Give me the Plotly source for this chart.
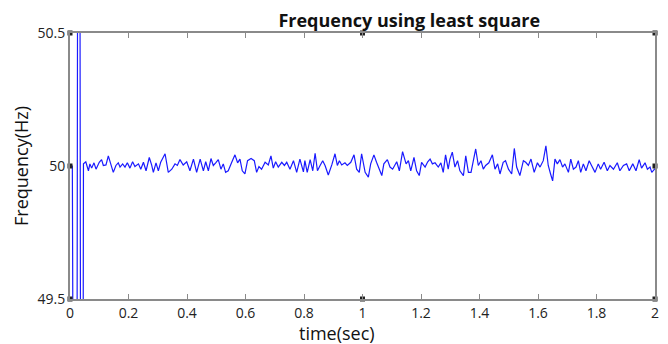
import plotly.graph_objects as go

# time (s) and frequency (Hz)
time_s = [0.000, 0.008, 0.020, 0.030, 0.040,
          0.046, 0.054, 0.063, 0.068, 0.074, 0.082, 0.089, 0.100, 0.108, 0.114,
          0.123, 0.131, 0.139, 0.148, 0.157, 0.165, 0.171, 0.180, 0.188, 0.196,
          0.205, 0.214, 0.222, 0.234, 0.242, 0.251, 0.260, 0.271, 0.279, 0.285,
          0.294, 0.302, 0.310, 0.325, 0.336, 0.348, 0.359, 0.367, 0.376, 0.387,
          0.399,
          0.410, 0.422, 0.433, 0.445, 0.456, 0.464, 0.473, 0.482, 0.490, 0.498,
          0.507, 0.516, 0.524, 0.532, 0.541, 0.553, 0.564, 0.573, 0.581, 0.589,
          0.598, 0.607, 0.619, 0.630, 0.638, 0.646, 0.655, 0.667, 0.678, 0.687,
          0.695, 0.703, 0.712, 0.724, 0.733, 0.741, 0.752, 0.764, 0.775, 0.786,
          0.798,
          0.803, 0.811, 0.821, 0.830, 0.838, 0.846, 0.855, 0.864, 0.872, 0.883,
          0.895, 0.906, 0.914, 0.921, 0.929, 0.940, 0.948, 0.960, 0.971, 0.980,
          0.989, 0.997, 1.009, 1.020, 1.028, 1.039, 1.048, 1.058, 1.066, 1.073,
          1.085, 1.094, 1.103, 1.117, 1.126, 1.137, 1.149, 1.157, 1.165, 1.176,
          1.185, 1.194,
          1.202, 1.214, 1.223, 1.231, 1.239, 1.248, 1.259, 1.268, 1.276, 1.284,
          1.293, 1.299, 1.307, 1.316, 1.325, 1.333, 1.345, 1.353, 1.362, 1.371,
          1.379, 1.387, 1.396, 1.405, 1.413, 1.421, 1.432, 1.444, 1.453, 1.462,
          1.470, 1.481, 1.489, 1.499, 1.510, 1.519, 1.527, 1.538, 1.550, 1.558,
          1.567, 1.576, 1.587,
          1.598, 1.607, 1.618, 1.627, 1.635, 1.643, 1.650, 1.658, 1.666, 1.675,
          1.684, 1.692, 1.704, 1.712, 1.721, 1.730, 1.738, 1.746, 1.755, 1.764,
          1.775, 1.783, 1.795, 1.806, 1.814, 1.826, 1.837, 1.846, 1.858, 1.871,
          1.880, 1.892, 1.903, 1.912, 1.924, 1.935, 1.946, 1.954, 1.966, 1.974,
          1.983, 1.989, 2.000]

freq_hz = [50.000, 50.000, 46.000, 54.000, 46.000,
           50.008, 50.016, 49.982, 50.008, 49.992, 50.012, 49.988, 50.014, 50.024, 50.002,
           50.004, 50.038, 50.012, 49.976, 50.002, 50.012, 49.996, 50.008, 49.996, 50.012,
           49.992, 50.016, 49.998, 50.008, 49.988, 50.014, 49.982, 50.032, 50.004, 49.976,
           50.012, 49.982, 50.014, 50.046, 49.976, 49.988, 50.008, 50.002, 50.024, 50.004,
           50.016,
           49.982, 50.026, 49.976, 50.026, 49.982, 50.016, 49.982, 50.028, 50.002, 50.012,
           50.024, 49.988, 50.008, 49.976, 49.982, 50.014, 50.042, 50.012, 50.026, 49.982,
           49.970, 50.020, 50.028, 50.020, 49.976, 49.998, 49.988, 50.014, 50.004, 50.038,
           49.992, 50.016, 49.996, 50.014, 50.002, 50.014, 49.988, 50.020, 49.976, 50.026,
           49.978,
           50.020, 49.976, 50.024, 49.982, 50.048, 49.982, 50.002, 50.020, 50.002, 49.966,
           50.004, 50.046, 50.002, 50.020, 50.004, 50.012, 50.002, 50.014, 50.042, 49.988,
           49.976, 50.046, 49.976, 49.958, 50.008, 50.042, 50.014, 49.982, 49.964, 50.008,
           50.024, 49.996, 49.988, 50.016, 49.982, 50.054, 50.008, 50.020, 49.982, 50.032,
           49.982, 49.964,
           50.014, 49.996, 50.016, 50.026, 50.008, 50.012, 49.996, 50.012, 49.976, 50.042,
           49.988, 50.026, 50.052, 49.996, 50.020, 49.982, 49.964, 50.038, 49.976, 49.976,
           50.026, 50.064, 50.002, 50.020, 49.988, 50.002, 50.012, 50.042, 49.988, 50.008,
           49.970, 50.014, 50.020, 49.988, 49.970, 50.066, 49.996, 49.964, 50.020, 50.014,
           50.002, 50.026, 49.976,
           50.012, 49.996, 50.020, 50.076, 50.002, 49.970, 49.944, 50.026, 50.008, 50.024,
           49.996, 50.008, 49.976, 50.026, 49.988, 49.996, 50.020, 49.976, 50.008, 49.982,
           50.020, 50.002, 49.976, 50.008, 49.988, 50.014, 49.982, 50.002, 49.988, 50.012,
           49.982, 50.002, 50.008, 49.982, 50.008, 49.982, 50.024, 49.992, 50.012, 49.988,
           49.996, 49.976, 49.990]

x_ticks = [0, 0.2, 0.4, 0.6, 0.8, 1, 1.2, 1.4, 1.6, 1.8, 2]
x_tick_labels = ["0", "0.2", "0.4", "0.6", "0.8", "1", "1.2", "1.4", "1.6", "1.8", "2"]
y_ticks = [49.5, 50, 50.5]
y_tick_labels = ["49.5", "50", "50.5"]

# small square axis markers (data-tip style) at corners / mid-ticks
marker_x = [0, 0, 0, 1, 1, 2, 2, 2]
marker_y = [49.5, 50, 50.5, 49.5, 50.5, 49.5, 50, 50.5]

fig = go.Figure()
fig.add_trace(go.Scatter(
    x=time_s, y=freq_hz, mode="lines",
    line=dict(color="#1a1aff", width=1.2),
    showlegend=False, hoverinfo="skip"))
fig.add_trace(go.Scatter(
    x=marker_x, y=marker_y, mode="markers",
    marker=dict(symbol="square", size=5, color="#222222"),
    cliponaxis=False, showlegend=False, hoverinfo="skip"))

FONT = "Open Sans, DejaVu Sans, sans-serif"
axis_font = dict(family=FONT, size=14, color="#222222")

# the page body has an 8px margin, so the figure is sized to fit the 668x344 window
fig.update_layout(
    width=660, height=336,
    margin=dict(l=62, r=13, t=25, b=45, autoexpand=False),
    paper_bgcolor="white", plot_bgcolor="white",
    title=dict(text="<b>Frequency using least square</b>",
               x=0.608, xanchor="center", y=0.962, yanchor="middle",
               font=dict(family=FONT, size=18, color="#111111")),
    xaxis=dict(range=[0, 2], tickvals=x_ticks, ticktext=x_tick_labels,
               showgrid=False, zeroline=False,
               showline=True, linecolor="#8a8a8a", linewidth=2, mirror="ticks",
               ticks="inside", ticklen=5, tickcolor="#8a8a8a", tickwidth=1,
               tickfont=dict(family=FONT, size=14, color="#222222")),
    yaxis=dict(range=[49.5, 50.5], tickvals=y_ticks, ticktext=y_tick_labels,
               showgrid=False, zeroline=False,
               showline=True, linecolor="#8a8a8a", linewidth=2, mirror="ticks",
               ticks="", tickfont=axis_font,
               title=dict(text="Frequency(Hz)", standoff=4,
                          font=dict(family=FONT, size=18, color="#111111"))),
    annotations=[dict(text="time(sec)", xref="paper", yref="paper",
                      x=0.457, y=0, xanchor="center", yanchor="middle",
                      yshift=-34, showarrow=False,
                      font=dict(family=FONT, size=18, color="#111111"))],
)

fig.write_html("out.html")
